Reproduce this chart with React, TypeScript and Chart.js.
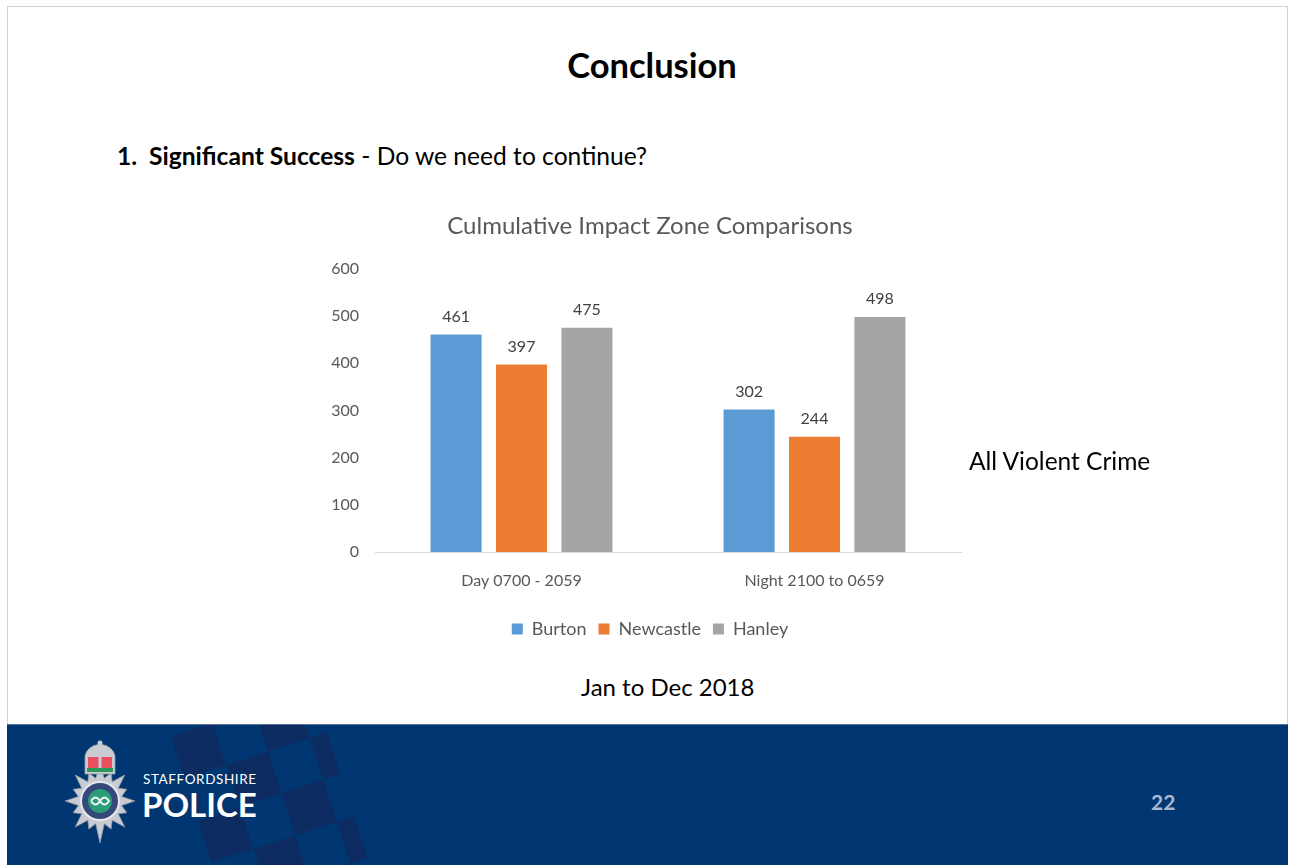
import React, { useEffect, useRef } from "react";
import { Chart, registerables } from "chart.js";

Chart.register(...registerables);

const categories = ["Day 0700 - 2059", "Night 2100 to 0659"];
const seriesNames = ["Burton", "Newcastle", "Hanley"];
const burton = [461, 302];
const newcastle = [397, 244];
const hanley = [475, 498];
const seriesColors = ["#5b9bd5", "#ed7d31", "#a5a5a5"];
const yTicks = [0, 100, 200, 300, 400, 500, 600];

const FONT = "Lato, 'DejaVu Sans Condensed', sans-serif";

const dataLabels = {
  id: "dataLabels",
  afterDatasetsDraw(chart: any) {
    const ctx = chart.ctx;
    ctx.save();
    ctx.font = `16px ${FONT}`;
    ctx.fillStyle = "#404040";
    ctx.textAlign = "center";
    ctx.textBaseline = "bottom";
    chart.data.datasets.forEach((ds: any, i: number) => {
      const meta = chart.getDatasetMeta(i);
      meta.data.forEach((bar: any, j: number) => {
        ctx.fillText(String(ds.data[j]), bar.x, bar.y - 10);
      });
    });
    ctx.restore();
  },
};

function ChartBox() {
  const ref = useRef<HTMLCanvasElement>(null);
  useEffect(() => {
    const values = [burton, newcastle, hanley];
    const chart = new Chart(ref.current!, {
      type: "bar",
      data: {
        labels: categories,
        datasets: seriesNames.map((n, i) => ({
          label: n,
          data: values[i],
          backgroundColor: seriesColors[i],
          categoryPercentage: 0.67,
          barPercentage: 0.78,
        })),
      },
      options: {
        animation: false,
        responsive: false,
        maintainAspectRatio: false,
        layout: { padding: { left: 0, right: 0, top: 0, bottom: 17 } },
        plugins: {
          title: {
            display: true,
            text: "Culmulative Impact Zone Comparisons",
            color: "#595959",
            font: { family: FONT, size: 24, weight: "normal" },
            padding: { top: 17, bottom: 28 },
          },
          legend: {
            position: "bottom",
            labels: {
              color: "#595959",
              font: { family: FONT, size: 18 },
              boxWidth: 11,
              boxHeight: 11,
              padding: 12,
            },
          },
          tooltip: { enabled: false },
        },
        scales: {
          x: {
            grid: { display: false, drawTicks: false },
            border: { display: true, color: "#d9d9d9", width: 1 },
            ticks: { color: "#595959", font: { family: FONT, size: 16 }, padding: 19 },
            afterFit: (s: any) => { s.height = 56; },
          },
          y: {
            min: 0,
            max: 600,
            afterBuildTicks: (s: any) => { s.ticks = yTicks.map((v) => ({ value: v })); },
            grid: { display: false, drawTicks: false },
            border: { display: false },
            ticks: { color: "#595959", font: { family: FONT, size: 16 }, padding: 16 },
            afterFit: (s: any) => { s.width = 75; },
          },
          spacer: {
            type: "linear",
            position: "right",
            display: true,
            grid: { display: false, drawTicks: false },
            border: { display: false },
            ticks: { display: false },
            afterFit: (s: any) => { s.width = 39; },
          },
        },
      },
      plugins: [dataLabels],
    });
    return () => chart.destroy();
  }, []);
  return (
    <canvas
      ref={ref}
      width={700}
      height={470}
      style={{ position: "absolute", left: 300, top: 195, width: 700, height: 470 }}
    />
  );
}

function Badge() {
  const pts: string[] = [];
  const cx = 40;
  const cy = 61;
  for (let i = 0; i < 32; i++) {
    const a = (Math.PI * 2 * i) / 32 - Math.PI / 2;
    let r = 22;
    if (i % 4 === 0) r = 35;
    else if (i % 2 === 0) r = 29;
    const sy = i === 16 ? 1.2 : 1.05;
    pts.push(`${(cx + r * Math.cos(a)).toFixed(1)},${(cy + r * Math.sin(a) * sy).toFixed(1)}`);
  }
  return (
    <svg width={80} height={110} viewBox="0 0 80 110" style={{ position: "absolute", left: 60, top: 740 }}>
      <polygon points={pts.join(" ")} fill="#c8ccd2" stroke="#8f96a0" strokeWidth={0.8} />
      <circle cx={cx} cy={cy} r={20} fill="#e6e8ec" />
      <circle cx={cx} cy={cy} r={18} fill="#34497a" />
      <circle cx={cx} cy={cy} r={12} fill="#2a9d78" />
      <path d="M31 61 q4.5 -7 9 0 q4.5 7 9 0 q-4.5 -7 -9 0 q-4.5 7 -9 0" fill="none" stroke="#eef0f2" strokeWidth={2} />
      <path d="M25 34 L25 16 q2 -10 15 -12 q13 2 15 12 L55 34 z" fill="#c8ccd2" stroke="#9aa0a8" strokeWidth={0.8} />
      <rect x={28} y={17} width={24} height={11} fill="#e8505f" />
      <rect x={38.5} y={15} width={3} height={13} fill="#c8ccd2" />
      <rect x={27} y={28} width={26} height={4} fill="#2a9a5c" />
      <circle cx={40} cy={3} r={2.5} fill="#c8ccd2" />
    </svg>
  );
}

export default function App() {
  return (
    <div style={{ position: "fixed", left: 0, top: 0, width: 1296, height: 865, background: "#fff", overflow: "hidden", fontFamily: FONT }}>
      <div style={{ position: "absolute", left: 7, top: 6, width: 1281, height: 860, border: "1px solid #d0d0d0", boxSizing: "border-box" }} />
      <div style={{ position: "absolute", left: 0, width: 1296, top: 44, textAlign: "center", fontSize: 34.5, fontWeight: "bold", color: "#000", paddingLeft: 4 }}>
        Conclusion
      </div>
      <div style={{ position: "absolute", left: 117, top: 141, fontSize: 24.6, color: "#000", whiteSpace: "nowrap" }}>
        <b>1.&nbsp;&nbsp;Significant Success</b> - Do we need to continue?
      </div>
      <ChartBox />
      <div style={{ position: "absolute", left: 969, top: 446, fontSize: 24.5, color: "#000", whiteSpace: "nowrap" }}>
        All Violent Crime
      </div>
      <div style={{ position: "absolute", left: 581, top: 672, fontSize: 24, color: "#000", whiteSpace: "nowrap" }}>
        Jan to Dec 2018
      </div>
      <div style={{ position: "absolute", left: 7, top: 724, width: 1281, height: 141, background: "#003671", overflow: "hidden", borderTop: "1px solid #5a7297", boxSizing: "border-box" }}>
        <div
          style={{
            position: "absolute",
            left: 150,
            top: -30,
            width: 150,
            height: 240,
            transform: "rotate(-18deg)",
            transformOrigin: "0 0",
            backgroundImage: "conic-gradient(#0c2c61 25%, transparent 0 50%, #0c2c61 0 75%, transparent 0)",
            backgroundSize: "88px 88px",
          }}
        />
      </div>
      <Badge />
      <div style={{ position: "absolute", left: 143, top: 771, fontSize: 13.5, color: "#fff", letterSpacing: 0.6 }}>STAFFORDSHIRE</div>
      <div style={{ position: "absolute", left: 142, top: 784, fontSize: 33, color: "#fff", fontWeight: "bold" }}>POLICE</div>
      <div style={{ position: "absolute", left: 1151, top: 789, fontSize: 21, color: "#a8b8d0", fontWeight: "bold" }}>22</div>
    </div>
  );
}
